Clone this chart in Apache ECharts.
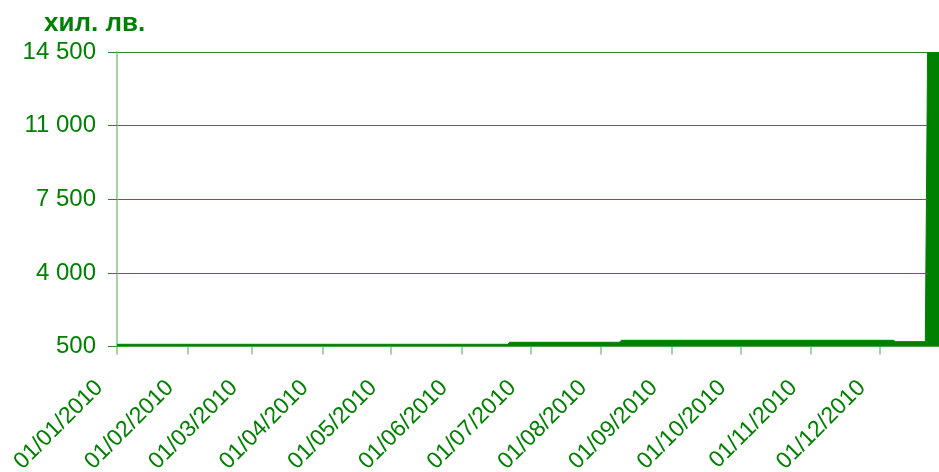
<!DOCTYPE html>
<html>
<head>
<meta charset="utf-8">
<script src="https://cdn.jsdelivr.net/npm/echarts@6/dist/echarts.min.js"></script>
<style>
html,body{margin:0;padding:0;background:#fff;overflow:hidden;}
#chart{width:939px;height:472px;}
</style>
</head>
<body>
<div id="chart"></div>
<script>
// Data (thousand BGN)
var dates  = ['2010-01-01','2010-06-21','2010-06-22','2010-08-09','2010-08-10','2010-12-07','2010-12-08','2010-12-21','2010-12-22','2010-12-31'];
var values = [605, 605, 700, 700, 795, 795, 730, 730, 14460, 14460];
var monthTicks = ['2010-01-01','2010-02-01','2010-03-01','2010-04-01','2010-05-01','2010-06-01','2010-07-01','2010-08-01','2010-09-01','2010-10-01','2010-11-01','2010-12-01'];
var yTicks = [500, 4000, 7500, 11000, 14500];
var unitLabel = 'хил. лв.';

function ts(s){ var p = s.split('-'); return Date.UTC(+p[0], +p[1]-1, +p[2]); }
function pad(n){ return (n<10?'0':'')+n; }
function fmtDate(v){ var d = new Date(v); return pad(d.getUTCDate())+'/'+pad(d.getUTCMonth()+1)+'/'+d.getUTCFullYear(); }
function fmtNum(v){ return String(v).replace(/\B(?=(\d{3})+(?!\d))/g, ' '); }

var green = '#008000';
var seriesData = dates.map(function(d,i){ return [ts(d), values[i]]; });
var tickVals = monthTicks.map(ts);

var chart = echarts.init(document.getElementById('chart'), null, {renderer:'canvas', width:939, height:472});
chart.setOption({
  animation:false,
  backgroundColor:'#fff',
  title:{
    text: unitLabel, left: 39, top: 6,
    textStyle:{color:green, fontSize:26, fontWeight:'bold', fontFamily:'Liberation Sans, Arial, sans-serif'}
  },
  grid:{left:117, top:52, width:822, height:294.5, containLabel:false, outerBoundsMode:'none'},
  xAxis:{
    type:'value',
    min: ts('2010-01-01'), max: ts('2010-12-27'),
    axisLine:{show:true, onZero:false, lineStyle:{color:'#86c586', width:1}},
    axisTick:{show:true, customValues: tickVals, length:8, lineStyle:{color:'#86c586', width:1.5}},
    axisLabel:{
      customValues: tickVals,
      rotate:45, margin:20, padding:[0,25,0,0],
      color:green, fontSize:23, fontFamily:'Liberation Sans, Arial, sans-serif',
      formatter:function(v){ return fmtDate(v); },
      hideOverlap:false
    },
    splitLine:{show:false}
  },
  yAxis:{
    type:'value', min:500, max:14500,
    axisLine:{show:true, onZero:false, lineStyle:{color:'#86c586', width:1.5}},
    axisTick:{show:true, customValues: yTicks, length:9, lineStyle:{color:'#2d862d'}},
    axisLabel:{
      customValues: yTicks, margin:21,
      color:green, fontSize:24, fontFamily:'Liberation Sans, Arial, sans-serif',
      formatter:function(v){ return fmtNum(v); }
    },
    splitLine:{show:true, lineStyle:{color:'#2d862d', width:1}}
  },
  series:[{
    type:'line',
    data: seriesData,
    symbol:'none',
    lineStyle:{color:green, width:1},
    areaStyle:{color:green, opacity:1},
    clip:true
  }]
});
</script>
</body>
</html>
